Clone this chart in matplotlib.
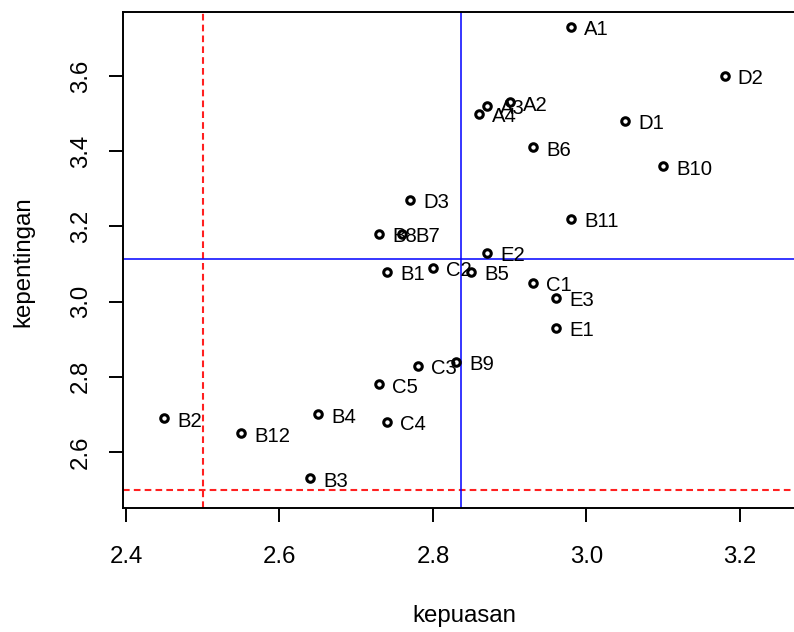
#! /usr/bin/env python3

import numpy as np
import matplotlib
matplotlib.use('Agg')
import matplotlib.pyplot as plt

# Item codes
labels = ["A1", "A2", "A3", "A4",
          "B1", "B2", "B3", "B4", "B5", "B6", "B7", "B8", "B9", "B10", "B11", "B12",
          "C1", "C2", "C3", "C4", "C5",
          "D1", "D2", "D3",
          "E1", "E2", "E3"]
# Satisfaction (x)
kepuasan = [2.98, 2.90, 2.87, 2.86,
            2.74, 2.45, 2.64, 2.65, 2.85, 2.93, 2.76, 2.73, 2.83, 3.10, 2.98, 2.55,
            2.93, 2.80, 2.78, 2.74, 2.73,
            3.05, 3.18, 2.77,
            2.96, 2.87, 2.96]
# Importance (y)
kepentingan = [3.73, 3.53, 3.52, 3.50,
               3.08, 2.69, 2.53, 2.70, 3.08, 3.41, 3.18, 3.18, 2.84, 3.36, 3.22, 2.65,
               3.05, 3.09, 2.83, 2.68, 2.78,
               3.48, 3.60, 3.27,
               2.93, 3.13, 3.01]
x_ticks = [2.4, 2.6, 2.8, 3.0, 3.2]
y_ticks = [2.6, 2.8, 3.0, 3.2, 3.4, 3.6]
cutoff = 2.5

plt.rcParams["font.family"] = ["Liberation Sans", "DejaVu Sans"]

fig = plt.figure(figsize=(7.94, 6.32), dpi=100)
ax = fig.add_axes([0.1545, 0.1962, 0.8593, 0.7848])

ax.plot(kepuasan, kepentingan, linestyle="none", marker="o", markersize=5.4,
        markerfacecolor="none", markeredgecolor="black", markeredgewidth=2.2,
        zorder=4)
for lab, xv, yv in zip(labels, kepuasan, kepentingan):
    ax.annotate(lab, (xv, yv), xytext=(9.5, -6.0), textcoords="offset points",
                ha="left", va="baseline", fontsize=14.6, zorder=3)

# cutoff lines (red dashed) and mean lines (blue)
ax.axvline(cutoff, color="#ff2020", linewidth=1.5, dashes=(3.2, 2.0), zorder=2)
ax.axhline(cutoff, color="#ff2020", linewidth=1.5, dashes=(3.2, 2.0), zorder=2)
ax.axvline(np.mean(kepuasan), color="blue", linewidth=1.1, zorder=2)
ax.axhline(np.mean(kepentingan), color="blue", linewidth=1.1, zorder=2)

ax.set_xlim(2.3957, 3.2847)
ax.set_ylim(2.4511, 3.7702)
ax.set_xticks(x_ticks)
ax.set_xticklabels(["%.1f" % v for v in x_ticks])
ax.set_yticks(y_ticks)
ax.set_yticklabels(["%.1f" % v for v in y_ticks], rotation=90, va="center")

ax.tick_params(axis="both", direction="out", length=10, width=1.4,
               labelsize=17.3, colors="black")
ax.tick_params(axis="x", pad=17.5)
ax.tick_params(axis="y", pad=12)
for s in ax.spines.values():
    s.set_linewidth(1.4)
    s.set_color("black")

fig.text(464 / 794, 1 - 622 / 632, "kepuasan", fontsize=17.3,
         ha="center", va="baseline")
fig.text(29 / 794, 1 - 262 / 632, "kepentingan", fontsize=17.3, rotation=90,
         rotation_mode="anchor", ha="center", va="baseline")

fig.savefig("out.png", dpi=100)
